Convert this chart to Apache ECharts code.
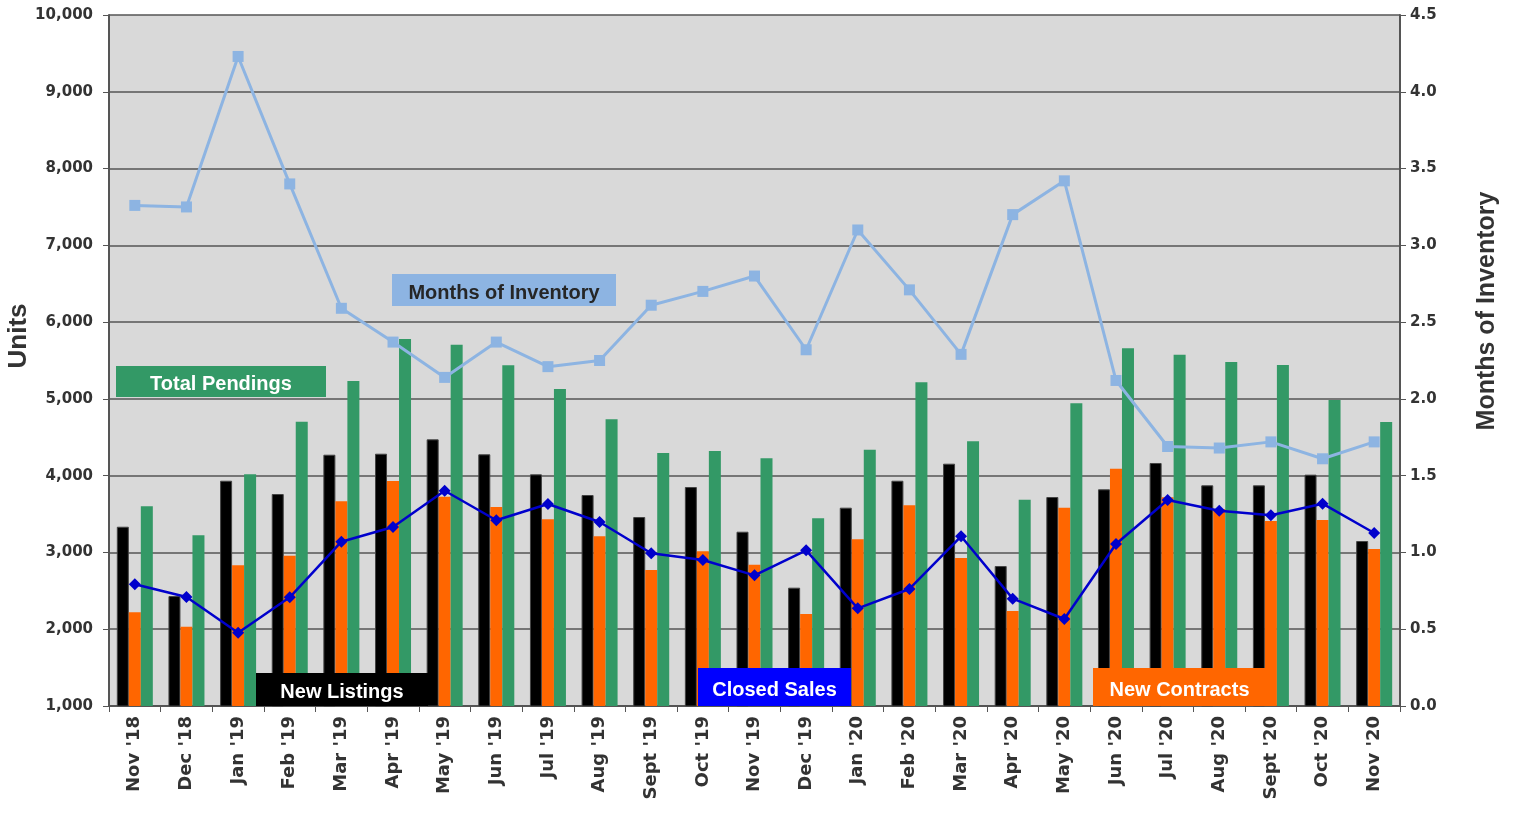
<!DOCTYPE html>
<html>
<head>
<meta charset="UTF-8">
<title>Units and Months of Inventory</title>
<script src="https://cdn.jsdelivr.net/npm/echarts@6/dist/echarts.min.js"></script>
<style>
  html, body { margin: 0; padding: 0; background: #fff; }
  #main { width: 1517px; height: 815px; }
</style>
</head>
<body>
<div id="main"></div>
<script type="text/javascript">
// month labels
var months = ["Nov '18","Dec '18","Jan '19","Feb '19","Mar '19","Apr '19","May '19","Jun '19","Jul '19","Aug '19",
              "Sept '19","Oct '19","Nov '19","Dec '19","Jan '20","Feb '20","Mar '20","Apr '20","May '20","Jun '20",
              "Jul '20","Aug '20","Sept '20","Oct '20","Nov '20"];

// values
var newListings   = [3335,2432,3934,3761,4273,4286,4473,4278,4017,3748,3461,3852,3270,2541,3583,3934,4156,2823,3722,3822,4165,3874,3874,4013,3149];
var newContracts  = [2220,2033,2832,2958,3666,3930,3726,3592,3431,3210,2771,3015,2840,2198,3171,3614,2928,2237,3583,4091,3718,3565,3409,3423,3045];
var totalPendings = [3601,3223,4018,4703,5233,5780,5706,5437,5129,4734,4295,4321,4226,3445,4338,5216,4447,3687,4942,5659,5575,5480,5441,4985,4699];
var closedSales   = [2585,2420,1955,2416,3140,3331,3804,3419,3631,3396,2989,2902,2702,3028,2272,2524,3210,2398,2133,3110,3683,3544,3484,3635,3253];
var monthsInv     = [3.26,3.25,4.23,3.40,2.59,2.37,2.14,2.37,2.21,2.25,2.61,2.70,2.80,2.32,3.10,2.71,2.29,3.20,3.42,2.12,1.69,1.68,1.72,1.61,1.72];

var myChart = echarts.init(document.getElementById('main'));
var font = 'Liberation Sans, Arial, sans-serif';
var tickFont = 'DejaVu Sans, Verdana, sans-serif';

// label boxes drawn over the plot
function tag(x, y, w, h, text, bg, fg) {
    return {
        type: 'group',
        children: [
            { type: 'rect', z: 100, shape: { x: x, y: y, width: w, height: h }, style: { fill: bg } },
            { type: 'text', z: 101, x: x + w / 2, y: y + h / 2 + 3,
              style: { text: text, fill: fg, font: 'bold 20px ' + font, textAlign: 'center', textVerticalAlign: 'middle' } }
        ]
    };
}

var option = {
    backgroundColor: '#ffffff',
    animation: false,
    grid: { left: 109, right: 117, top: 15, bottom: 109, show: true, backgroundColor: '#d9d9d9', borderWidth: 0 },
    xAxis: {
        type: 'category',
        data: months,
        axisLine: { lineStyle: { color: '#555', width: 2 } },
        axisTick: { show: true, length: 6, lineStyle: { color: '#555' } },
        axisLabel: { rotate: 90, fontSize: 18, fontWeight: 'bold', color: '#333', fontFamily: tickFont, margin: 10 }
    },
    yAxis: [
        {
            type: 'value', min: 1000, max: 10000, interval: 1000,
            axisLine: { show: true, lineStyle: { color: '#555', width: 2 } },
            axisTick: { show: true, length: 6, lineStyle: { color: '#555' } },
            axisLabel: { fontSize: 15, fontWeight: 'bold', color: '#333', fontFamily: tickFont, margin: 16,
                formatter: function (v) { return v.toLocaleString('en-US'); } },
            splitLine: { lineStyle: { color: '#555', width: 1.5 } }
        },
        {
            type: 'value', min: 0, max: 4.5, interval: 0.5,
            axisLine: { show: true, lineStyle: { color: '#555', width: 2 } },
            axisTick: { show: true, length: 6, lineStyle: { color: '#555' } },
            axisLabel: { fontSize: 15, fontWeight: 'bold', color: '#333', fontFamily: tickFont, margin: 10,
                formatter: function (v) { return v.toFixed(1); } },
            splitLine: { show: false }
        }
    ],
    series: [
        { name: 'New Listings', type: 'bar', data: newListings, barWidth: 12, barGap: '0%',
          itemStyle: { color: '#000000', borderColor: '#444', borderWidth: 1 } },
        { name: 'New Contracts', type: 'bar', data: newContracts, barWidth: 12,
          itemStyle: { color: '#ff6600' } },
        { name: 'Total Pendings', type: 'bar', data: totalPendings, barWidth: 12,
          itemStyle: { color: '#339966' } },
        { name: 'Closed Sales', type: 'line', data: closedSales, z: 5,
          symbol: 'diamond', symbolSize: 12,
          lineStyle: { color: '#0000cc', width: 2.5 }, itemStyle: { color: '#0000cc' } },
        { name: 'Months of Inventory', type: 'line', yAxisIndex: 1, data: monthsInv, z: 6,
          symbol: 'rect', symbolSize: 11,
          lineStyle: { color: '#8db4e2', width: 3 }, itemStyle: { color: '#8db4e2' } }
    ],
    graphic: [
        // axis titles
        { type: 'text', z: 100, x: 19, y: 336, rotation: Math.PI / 2,
          style: { text: 'Units', fill: '#333', font: 'bold 26px ' + font, textAlign: 'center', textVerticalAlign: 'middle' } },
        { type: 'text', z: 100, x: 1487, y: 311, rotation: Math.PI / 2,
          style: { text: 'Months of Inventory', fill: '#333', font: 'bold 25px ' + font, textAlign: 'center', textVerticalAlign: 'middle' } },
        tag(392, 274, 224, 32, 'Months of Inventory', '#8db4e2', '#262626'),
        tag(116, 366, 210, 31, 'Total Pendings', '#339966', '#ffffff'),
        tag(256, 673, 172, 33, 'New Listings', '#000000', '#ffffff'),
        tag(698, 668, 153, 38, 'Closed Sales', '#0000ff', '#ffffff'),
        tag(1093, 668, 173, 38, 'New Contracts', '#ff6600', '#ffffff')
    ]
};
myChart.setOption(option);
</script>
</body>
</html>
